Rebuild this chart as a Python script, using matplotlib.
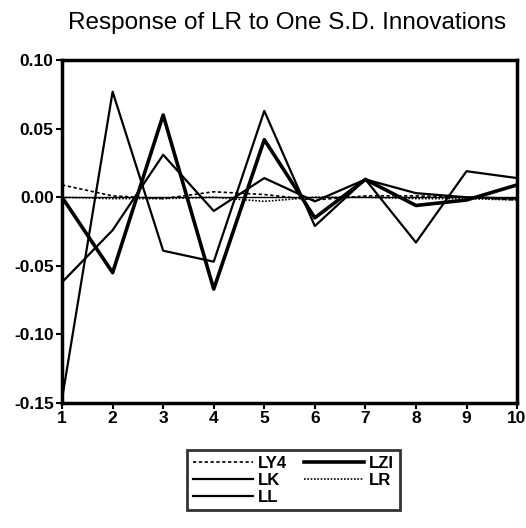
import matplotlib.pyplot as plt
import numpy as np

plt.rcParams['font.family'] = ['Liberation Sans', 'DejaVu Sans']

periods = np.arange(1, 11)
ly4 = [0.009, 0.001, -0.001, 0.004, 0.002, -0.002, 0.001, 0.001, 0.000, -0.002]
lzi = [0.000, -0.055, 0.060, -0.067, 0.042, -0.015, 0.013, -0.006, -0.002, 0.009]
lk = [-0.062, -0.024, 0.031, -0.010, 0.014, -0.003, 0.013, 0.003, 0.000, -0.001]
lr = [0.000, -0.001, -0.001, 0.000, -0.003, 0.000, 0.000, -0.001, -0.001, -0.002]
ll = [-0.147, 0.077, -0.039, -0.047, 0.063, -0.021, 0.013, -0.033, 0.019, 0.014]

fig = plt.figure(figsize=(5.26, 5.28), dpi=100)
ax = fig.add_axes([0.118, 0.237, 0.865, 0.649])

ax.plot(periods, ly4, color='black', lw=1.2, ls=(0, (2, 1.5)), label='LY4')
ax.plot(periods, lk, color='black', lw=1.6, label='LK')
ax.plot(periods, ll, color='black', lw=1.6, label='LL')
ax.plot(periods, lzi, color='black', lw=2.6, label='LZI')
ax.plot(periods, lr, color='black', lw=1.2, ls=(0, (1, 1)), label='LR')
ax.axhline(0, color='black', lw=1)

ax.set_xlim(1, 10)
ax.set_ylim(-0.15, 0.10)
ax.set_xticks(periods)
ax.set_yticks([-0.15, -0.10, -0.05, 0.00, 0.05, 0.10])
ax.set_yticklabels(['-0.15', '-0.10', '-0.05', '0.00', '0.05', '0.10'])
for s in ax.spines.values():
    s.set_linewidth(2.5)
ax.tick_params(direction='out', length=4, width=1.5, labelsize=12.5, pad=2)
for t in ax.get_xticklabels() + ax.get_yticklabels():
    t.set_fontweight('bold')

fig.text(0.545, 0.957, 'Response of LR to One S.D. Innovations',
         ha='center', va='center', fontsize=17.5)

leg = fig.legend(loc='center', bbox_to_anchor=(0.558, 0.090), ncol=2,
                 frameon=True, fancybox=False, edgecolor='black',
                 fontsize=12, handlelength=3.6, handletextpad=0.3,
                 columnspacing=1.0, labelspacing=0.1, borderpad=0.35)
leg.get_frame().set_linewidth(2)
for t in leg.get_texts():
    t.set_fontweight('bold')

plt.savefig('out.png', dpi=100)
